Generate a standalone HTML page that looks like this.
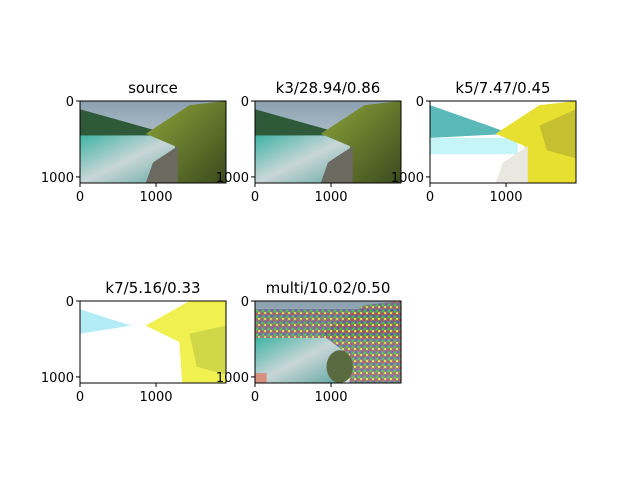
<!DOCTYPE html>
<html><head><meta charset="utf-8"><style>
body{margin:0;background:#fff;}
svg text{font-family:"DejaVu Sans","Liberation Sans",sans-serif;}
</style></head><body>
<svg id="fig" width="640" height="480" xmlns="http://www.w3.org/2000/svg">
<defs>
<linearGradient id="sky" x1="0" y1="0" x2="0" y2="1"><stop offset="0" stop-color="#8aa0b0"/><stop offset="1" stop-color="#dfe6ea"/></linearGradient>
<linearGradient id="lake" x1="0" y1="0" x2="1" y2="1"><stop offset="0" stop-color="#3fb3a4"/><stop offset="0.5" stop-color="#c9d6d8"/><stop offset="1" stop-color="#5fa6a0"/></linearGradient>
<linearGradient id="hill" x1="0" y1="0" x2="1" y2="1"><stop offset="0" stop-color="#8ea53a"/><stop offset="1" stop-color="#3c4a1e"/></linearGradient>
<pattern id="noise" width="6" height="6" patternUnits="userSpaceOnUse">
<rect width="6" height="6" fill="#7a7a60"/><rect width="2" height="2" fill="#e0e040"/><rect x="3" y="1" width="2" height="2" fill="#d03060"/><rect x="1" y="3" width="2" height="2" fill="#5050d0"/><rect x="4" y="4" width="2" height="2" fill="#40c040"/></pattern>
</defs>
</svg>
<script>
const titles = ["source","k3/28.94/0.86","k5/7.47/0.45","k7/5.16/0.33","multi/10.02/0.50"];
const xTicks = [0, 1000];
const yTicks = [0, 1000];
const imgW = 1920, imgH = 1080;
const origins = [[80,101],[255,101],[430,101],[80,301],[255,301]];
const W = 146, H = 82;
const NS = "http://www.w3.org/2000/svg";
const svg = document.getElementById('fig');
function el(t,a,p){const e=document.createElementNS(NS,t);for(const k in a)e.setAttribute(k,a[k]);(p||svg).appendChild(e);return e;}
function sx(x0,v){return x0 + v/imgW*W;}
function sy(y0,v){return y0 + v/imgH*H;}
function drawImage(g,i,x,y){
  const s=(fx,fy)=>(x+fx*W)+","+(y+fy*H);
  if(i<=1){
    el('rect',{x,y,width:W,height:H,fill:'url(#sky)'},g);
    el('polygon',{points:[s(0,0.1),s(0.5,0.35),s(0.5,0.45),s(0,0.45)].join(' '),fill:'#2f5a3a'},g);
    el('rect',{x,y:y+H*0.42,width:W*0.68,height:H*0.58,fill:'url(#lake)'},g);
    el('polygon',{points:[s(0.45,0.4),s(0.75,0.05),s(1,0),s(1,1),s(0.65,1),s(0.65,0.55)].join(' '),fill:'url(#hill)'},g);
    el('polygon',{points:[s(0.45,1),s(0.5,0.75),s(0.67,0.55),s(0.67,1)].join(' '),fill:'#6a6a60'},g);
  } else if(i===2){
    el('rect',{x,y,width:W,height:H,fill:'#ffffff'},g);
    el('polygon',{points:[s(0,0.05),s(0.4,0.3),s(0.55,0.4),s(0,0.45)].join(' '),fill:'#5ab8b8'},g);
    el('rect',{x,y:y+H*0.45,width:W*0.6,height:H*0.2,fill:'#a0eef4',opacity:0.6},g);
    el('polygon',{points:[s(0.45,0.4),s(0.75,0.05),s(1,0),s(1,1),s(0.65,1),s(0.65,0.55)].join(' '),fill:'#e8e030'},g);
    el('polygon',{points:[s(0.75,0.3),s(1,0.1),s(1,0.7),s(0.8,0.6)].join(' '),fill:'#a0a030',opacity:0.5},g);
    el('polygon',{points:[s(0.45,1),s(0.5,0.75),s(0.67,0.55),s(0.67,1)].join(' '),fill:'#e8e8e0'},g);
  } else if(i===3){
    el('rect',{x,y,width:W,height:H,fill:'#ffffff'},g);
    el('polygon',{points:[s(0,0.1),s(0.35,0.3),s(0,0.4)].join(' '),fill:'#80e0ec',opacity:0.6},g);
    el('polygon',{points:[s(0.45,0.3),s(0.75,0.0),s(1,0),s(1,1),s(0.7,1),s(0.68,0.5)].join(' '),fill:'#f0f050'},g);
    el('polygon',{points:[s(0.75,0.4),s(1,0.3),s(1,0.9),s(0.8,0.8)].join(' '),fill:'#b0c040',opacity:0.5},g);
  } else {
    el('rect',{x,y,width:W,height:H,fill:'url(#sky)'},g);
    el('rect',{x,y:y+H*0.1,width:W,height:H*0.35,fill:'url(#noise)',opacity:0.8},g);
    el('rect',{x,y:y+H*0.45,width:W*0.6,height:H*0.55,fill:'url(#lake)'},g);
    el('polygon',{points:[s(0.45,0.4),s(0.75,0.05),s(1,0),s(1,1),s(0.65,1),s(0.6,0.6)].join(' '),fill:'url(#noise)',opacity:0.8},g);
    el('ellipse',{cx:x+W*0.58,cy:y+H*0.8,rx:W*0.09,ry:H*0.2,fill:'#5a6a40'},g);
    el('rect',{x,y:y+H*0.88,width:W*0.08,height:H*0.12,fill:'#d89080'},g);
  }
}
titles.forEach((t,i)=>{
  const [x0,y0]=origins[i];
  const g=el('g',{});
  
  
  drawImage(g,i,x0,y0);
  const frame=el('rect',{x:x0,y:y0,width:W,height:H,fill:'none',stroke:'#000','stroke-width':1},g);
  
  
  const tt=el('text',{x:x0+W/2,y:y0-8,'text-anchor':'middle','font-size':15,fill:'#000'},g);
  tt.textContent=t;
  
  
  xTicks.forEach(v=>{
    const px=sx(x0,v);
    el('line',{x1:px,x2:px,y1:y0+H,y2:y0+H+4,stroke:'#000'},g);
    const l=el('text',{x:px,y:y0+H+18,'text-anchor':'middle','font-size':13},g);
    l.textContent=v;
    
    
  });
  yTicks.forEach(v=>{
    const py=sy(y0,v);
    el('line',{x1:x0-4,x2:x0,y1:py,y2:py,stroke:'#000'},g);
    const l=el('text',{x:x0-6,y:py+5,'text-anchor':'end','font-size':13},g);
    l.textContent=v;
    
    
  });
});
</script>
</body></html>
